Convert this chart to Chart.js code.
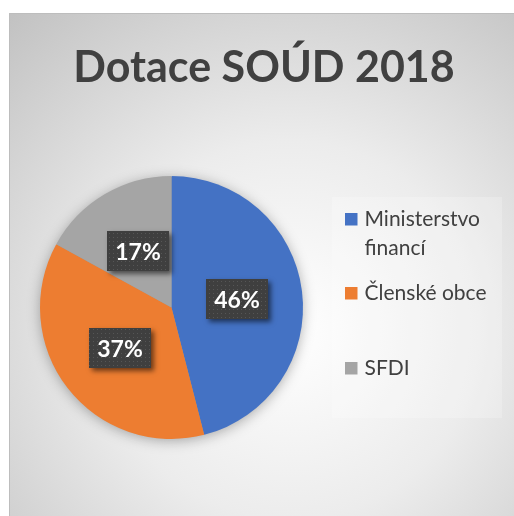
<!DOCTYPE html>
<html>
<head>
<meta charset="utf-8">
<script src="https://cdn.jsdelivr.net/npm/chart.js@4.4.1/dist/chart.umd.min.js"></script>
<style>
  html, body { margin: 0; padding: 0; background: #ffffff; }
  #wrap { position: absolute; left: 0; top: 0; width: 514px; height: 516px; }
</style>
</head>
<body>
<div id="wrap"><canvas id="c" width="514" height="516"></canvas></div>
<script>
// ---- data ----
const titleText = "Dotace SOÚD 2018";
const categories = ["Ministerstvo financí", "Členské obce", "SFDI"];
const values = [46, 37, 17];
const colors = ["#4472C4", "#ED7D31", "#A5A5A5"];

const FONT = "Lato, 'Open Sans', sans-serif";

function makePattern(ctx) {
  const p = document.createElement('canvas');
  p.width = 4; p.height = 4;
  const pc = p.getContext('2d');
  pc.fillStyle = '#3f3f3f';
  pc.fillRect(0, 0, 4, 4);
  pc.fillStyle = '#565656';
  pc.fillRect(1, 1, 1, 1);
  return ctx.createPattern(p, 'repeat');
}

const backgroundPlugin = {
  id: 'bg',
  beforeDraw(chart) {
    const ctx = chart.ctx;
    const x0 = 9, y0 = 13, x1 = 514, y1 = 516;
    ctx.save();
    const g = ctx.createRadialGradient(290, 330, 0, 290, 330, 420);
    g.addColorStop(0, '#ffffff');
    g.addColorStop(0.45, '#ececec');
    g.addColorStop(1, '#c2c2c2');
    ctx.fillStyle = g;
    ctx.fillRect(x0, y0, x1 - x0, y1 - y0);
    ctx.strokeStyle = '#bdbdbd';
    ctx.lineWidth = 1;
    ctx.beginPath();
    ctx.moveTo(x0 + 0.5, y1);
    ctx.lineTo(x0 + 0.5, y0 + 0.5);
    ctx.lineTo(x1, y0 + 0.5);
    ctx.stroke();
    ctx.fillStyle = 'rgba(255,255,255,0.22)';
    ctx.fillRect(332, 197, 170, 221);
    // title
    ctx.fillStyle = '#404040';
    ctx.font = 'bold 43px ' + FONT;
    ctx.textAlign = 'center';
    ctx.textBaseline = 'alphabetic';
    ctx.fillText(titleText, 264, 82);
    ctx.restore();
  }
};

const pieShadowPlugin = {
  id: 'pieShadow',
  beforeDatasetsDraw(chart) {
    const arc = chart.getDatasetMeta(0).data[0];
    if (!arc) return;
    const ctx = chart.ctx;
    ctx.save();
    ctx.shadowColor = 'rgba(0,0,0,0.35)';
    ctx.shadowBlur = 14;
    ctx.shadowOffsetX = 0;
    ctx.shadowOffsetY = 2;
    ctx.fillStyle = '#999';
    ctx.beginPath();
    ctx.arc(arc.x, arc.y, arc.outerRadius - 1, 0, Math.PI * 2);
    ctx.fill();
    ctx.restore();
  }
};

const labelsPlugin = {
  id: 'boxLabels',
  afterDatasetsDraw(chart) {
    const ctx = chart.ctx;
    const meta = chart.getDatasetMeta(0);
    const data = chart.data.datasets[0].data;
    const total = data.reduce((a, b) => a + b, 0);
    const pat = makePattern(ctx);
    meta.data.forEach((arc, i) => {
      const pos = arc.tooltipPosition();
      const txt = Math.round(data[i] / total * 100) + '%';
      const w = 62, h = 40;
      const bx = Math.round(pos.x - w / 2), by = Math.round(pos.y - h / 2);
      ctx.save();
      ctx.shadowColor = 'rgba(0,0,0,0.55)';
      ctx.shadowBlur = 5;
      ctx.shadowOffsetX = 3;
      ctx.shadowOffsetY = 3;
      ctx.fillStyle = '#3f3f3f';
      ctx.fillRect(bx, by, w, h);
      ctx.restore();
      ctx.save();
      ctx.fillStyle = pat;
      ctx.fillRect(bx, by, w, h);
      ctx.fillStyle = '#ffffff';
      ctx.font = 'bold 23px ' + FONT;
      ctx.textAlign = 'center';
      ctx.textBaseline = 'alphabetic';
      ctx.fillText(txt, bx + w / 2, by + 29);
      ctx.restore();
    });
  }
};

const legendPlugin = {
  id: 'sideLegend',
  afterDraw(chart) {
    const ctx = chart.ctx;
    const labels = chart.data.labels;
    const bg = chart.data.datasets[0].backgroundColor;
    const baselines = [226, 300, 375];
    ctx.save();
    ctx.font = '21px ' + FONT;
    ctx.textBaseline = 'alphabetic';
    ctx.textAlign = 'left';
    labels.forEach((lab, i) => {
      const words = lab.split(' ');
      const lines = [];
      let cur = '';
      words.forEach(wd => {
        const t = cur ? cur + ' ' + wd : wd;
        if (ctx.measureText(t).width > 132 && cur) { lines.push(cur); cur = wd; }
        else cur = t;
      });
      if (cur) lines.push(cur);
      const b = baselines[i];
      ctx.fillStyle = bg[i];
      ctx.fillRect(345, b - 13, 12.5, 12.5);
      ctx.fillStyle = '#404040';
      lines.forEach((ln, k) => ctx.fillText(ln, 364.5, b + k * 29));
    });
    ctx.restore();
  }
};

new Chart(document.getElementById('c'), {
  type: 'pie',
  data: {
    labels: categories,
    datasets: [{
      data: values,
      backgroundColor: colors,
      borderWidth: 0,
      hoverOffset: 0
    }]
  },
  options: {
    responsive: false,
    animation: false,
    events: [],
    layout: { padding: { left: 40, right: 211, top: 176, bottom: 77 } },
    plugins: {
      legend: { display: false },
      tooltip: { enabled: false },
      title: { display: false }
    }
  },
  plugins: [backgroundPlugin, pieShadowPlugin, labelsPlugin, legendPlugin]
});
</script>
</body>
</html>
